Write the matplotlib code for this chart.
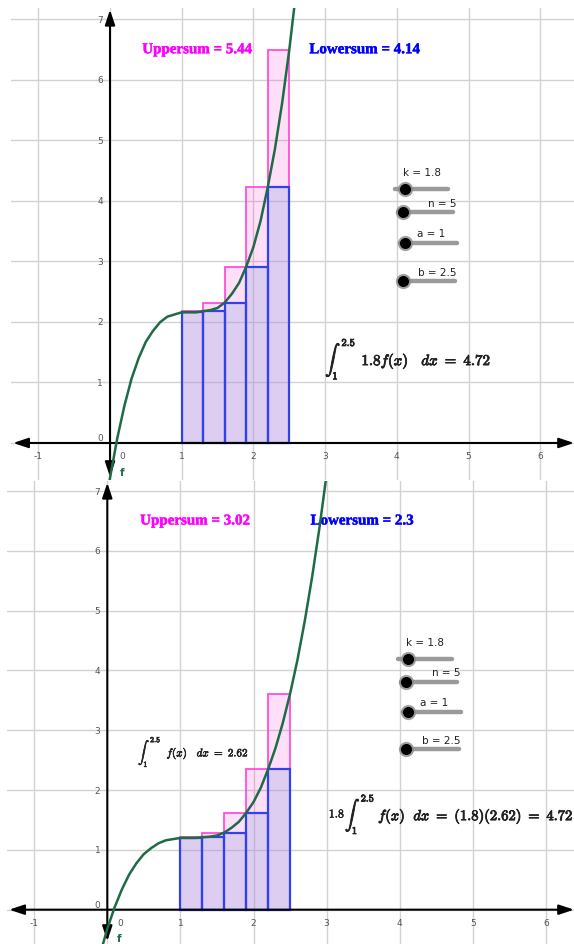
import matplotlib.pyplot as plt
import matplotlib.patheffects as pe

plt.rcParams['mathtext.fontset'] = 'cm'

# slider values
k = 1.8
a, b, n = 1, 2.5, 5

# points along f
fx = [-0.1, 0.0, 0.1, 0.2, 0.3, 0.4, 0.5, 0.6, 0.7, 0.8, 0.9, 1.0, 1.1, 1.2, 1.3, 1.4,
      1.5, 1.6, 1.7, 1.8, 1.9, 2.0, 2.1, 2.2, 2.3, 2.4, 2.5, 2.6, 2.7, 2.8, 2.9, 3.0]
fy = [-0.75, -0.32, 0.04, 0.34, 0.59, 0.78, 0.93, 1.03, 1.11, 1.16, 1.18, 1.20, 1.20, 1.20,
      1.21, 1.22, 1.24, 1.29, 1.37, 1.47, 1.62, 1.80, 2.04, 2.35, 2.70, 3.12, 3.61, 4.17,
      4.82, 5.55, 6.37, 7.28]

# rectangles for the upper / lower sums of f on [1, 2.5]
rect_left = [1.0, 1.3, 1.6, 1.9, 2.2]
rect_width = 0.3
upper_h = [1.21, 1.29, 1.62, 2.35, 3.61]
lower_h = [1.20, 1.21, 1.29, 1.62, 2.35]

x_ticks = [-1, 0, 1, 2, 3, 4, 5, 6]
y_ticks = [0, 1, 2, 3, 4, 5, 6, 7]

GRID = '#d2d2d2'
CURVE = '#1e6b45'
TICK = '#555555'
INK = '#222222'

fig = plt.figure(figsize=(5.74, 9.45), dpi=100)

def bold(t, w=0.6):
    t.set_path_effects([pe.withStroke(linewidth=w, foreground=t.get_color())])
    return t

def slider(ax, x0, x1, xk, y, label, lx, ly):
    ax.plot([x0, x1], [y, y], color='#9a9a9a', lw=3.2, solid_capstyle='round', zorder=6)
    ax.plot(xk, y, 'o', ms=10, color='#8a8a8a', alpha=0.7, zorder=7)
    ax.plot(xk, y, 'o', ms=7, color='black', zorder=8)
    ax.text(lx, ly, label, fontsize=7.5, color=INK, va='center', ha='left', zorder=8)

def draw_panel(ax, scale, xlim, ylim, upper_txt, lower_txt):
    ax.set_xlim(xlim)
    ax.set_ylim(ylim)
    ax.axis('off')

    for x in x_ticks:
        ax.axvline(x, color=GRID, lw=1.0, zorder=0)
    for y in y_ticks:
        ax.axhline(y, color=GRID, lw=1.0, zorder=0)

    ax.bar(rect_left, [scale * h for h in upper_h], width=rect_width, align='edge',
           facecolor=(1.0, 0.0, 0.8, 0.13), edgecolor='#ff4fd8', lw=1.3, zorder=2)
    ax.bar(rect_left, [scale * h for h in lower_h], width=rect_width, align='edge',
           facecolor=(0.56, 0.67, 0.89, 0.30), edgecolor='#3340ee', lw=1.6, zorder=3)

    # axes with arrow heads at both ends
    arrow = dict(arrowstyle='<|-|>,head_length=0.9,head_width=0.3', color='black',
                 lw=1.5, shrinkA=0, shrinkB=0, mutation_scale=10)
    ax.annotate('', xy=(xlim[1], 0), xytext=(xlim[0] + 0.03, 0), arrowprops=arrow,
                annotation_clip=False, zorder=4)
    ax.annotate('', xy=(0, ylim[1] - 0.03), xytext=(0, ylim[0] + 0.05), arrowprops=arrow,
                annotation_clip=False, zorder=4)

    ys = [scale * v for v in fy]
    ax.plot(fx, ys, color=CURVE, lw=1.8, zorder=5)
    ax.text(0.13, -0.48, 'f', color=CURVE, fontsize=7.5, fontweight='bold', va='center')

    for x in x_ticks:
        off = 9 if x == 0 else 0
        ax.annotate(str(x), (x, 0), xytext=(off, -6),
                    textcoords='offset points', ha='center', va='top',
                    fontsize=6.5, color=TICK)
    for y in y_ticks:
        off = 4 if y == 0 else 0
        ax.annotate(str(y), (0, y), xytext=(-5, off), textcoords='offset points',
                    ha='right', va='center', fontsize=6.5, color=TICK)

    bold(ax.text(0.45, 6.5, upper_txt, color='#ff00ff', fontsize=10.8, fontweight='bold',
                 family='Liberation Serif', va='center'), 0.3)
    bold(ax.text(2.78, 6.5, lower_txt, color='#0000ff', fontsize=10.8, fontweight='bold',
                 family='Liberation Serif', va='center'), 0.3)

    slider(ax, 3.97, 4.71, 4.11, 4.19, 'k = 1.8', 4.09, 4.48)
    slider(ax, 4.02, 4.78, 4.08, 3.81, 'n = 5', 4.44, 3.97)
    slider(ax, 4.05, 4.84, 4.11, 3.31, 'a = 1', 4.28, 3.47)
    slider(ax, 4.03, 4.81, 4.09, 2.68, 'b = 2.5', 4.30, 2.83)

# top: rectangles and curve for k*f
ax1 = fig.add_axes([11 / 574, 1 - 481 / 945, 563 / 574, 472 / 945])
draw_panel(ax1, k, (-1.381, 6.471), (-0.612, 7.190), 'Uppersum = 5.44', 'Lowersum = 4.14')
bold(ax1.text(3.0, 1.39, r'$\int_{1}^{2.5}\ \,1.8f(x)\ \ \ dx\ =\ 4.72$', fontsize=10.8,
              color=INK, va='center'))

# bottom: the same for f alone
ax2 = fig.add_axes([7 / 574, 0, 567 / 574, 463 / 945])
draw_panel(ax2, 1.0, (-1.372, 6.384), (-0.574, 7.169), 'Uppersum = 3.02', 'Lowersum = 2.3')
bold(ax2.text(0.42, 2.64, r'$\int_{1}^{2.5}\ \ f(x)\ \ \ dx\ =\ 2.62$', fontsize=8.0,
              color=INK, va='center'), 0.4)
bold(ax2.text(3.03, 1.6, r'$\mathbf{1.8}$', fontsize=8.5, color=INK, va='center'), 0.4)
bold(ax2.text(3.25, 1.6, r'$\int_{1}^{2.5}\ f(x)\ \ dx\ =\ (1.8)(2.62)\ =\ 4.72$',
              fontsize=10.5, color=INK, va='center'))

fig.savefig('out.png', dpi=100)
